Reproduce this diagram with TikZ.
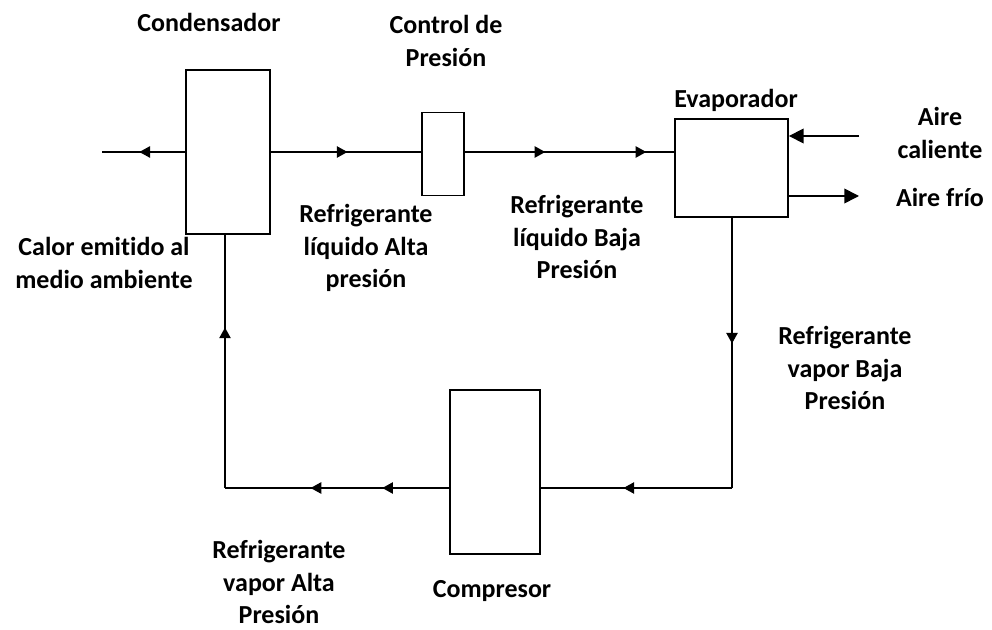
\documentclass[tikz,border=0pt]{standalone}
\usepackage{fontspec}
\setmainfont{Carlito}[Ligatures=NoCommon]
\usetikzlibrary{arrows.meta,decorations.markings}
\newcommand{\flowtip}{\draw[line width=2.2pt] (-15pt,0) -- (-5pt,0); \arrow{Triangle[length=8pt,width=8.5pt]}}
\begin{document}
\begin{tikzpicture}[x=0.75pt,y=-0.75pt,
  unitbox/.style={draw, line width=1.4pt, inner sep=0pt},
  flow/.style={line width=1.2pt},
  marks/.style={postaction={decorate,decoration={markings,mark=at position #1 with {\flowtip}}}},
  label/.style={font=\fontsize{19.5}{24.4}\selectfont\bfseries, align=center, inner sep=0pt}]
\useasboundingbox (0,0) rectangle (992,630);

% Units
\node[unitbox, minimum width=63pt, minimum height=123pt] (cond) at (228,152) {};
\node[unitbox, minimum width=31.5pt, minimum height=62.25pt] (ctrl) at (443,154) {};
\node[unitbox, minimum width=84.75pt, minimum height=73.5pt] (evap) at (731.5,168) {};
\node[unitbox, minimum width=67.5pt, minimum height=123pt] (comp) at (495,472) {};

% Free ends and corners
\coordinate (heat) at (102,152);
\coordinate (hot) at (859,136);
\coordinate (cold) at (859,196);
\coordinate (rb) at (732,488);
\coordinate (lb) at (225,488);

% Refrigerant loop
\draw[flow, marks=0.55] (cond.west) -- (heat);
\draw[flow, marks=0.51] (cond.east) -- (cond.east -| ctrl.west);
\draw[flow, marks=0.384, marks=0.867] (cond.east -| ctrl.east) -- (cond.east -| evap.west);
\draw[flow, marks=0.465] (rb |- evap.south) -- (rb);
\draw[flow, marks=0.568] (rb) -- (rb -| comp.east);
\draw[flow, marks=0.298, marks=0.618] (lb -| comp.west) -- (lb);
\draw[flow, marks=0.634] (lb) -- (lb |- cond.south);

% Air
\draw[flow, -{Triangle[length=11pt,width=11pt]}] (hot) -- (hot -| evap.east);
\draw[flow, -{Triangle[length=11pt,width=11pt]}] (evap.east |- cold) -- (cold);

% Labels
\node[label] (tcond) at (209,22) {Condensador};
\node[label] (tctrl) at (446,41) {Control de\\Presión};
\node[label] (tevap) at (736,100) {Evaporador};
\node[label] (thot) at (940,133) {Aire\\caliente};
\node[label] (tcold) at (940,197) {Aire frío};
\node[label] (theat) at (104,263) {Calor emitido al\\medio ambiente};
\node[label] (tliqhi) at (366,248) {Refrigerante\\líquido Alta\\presión};
\node[label] (tliqlo) at (577,237) {Refrigerante\\líquido Baja\\Presión};
\node[label] (tvaplo) at (845,368) {Refrigerante\\vapor Baja\\Presión};
\node[label] (tvaphi) at (279,582) {Refrigerante\\vapor Alta\\Presión};
\node[label] (tcomp) at (492,591) {Compresor};

\end{tikzpicture}
\end{document}
